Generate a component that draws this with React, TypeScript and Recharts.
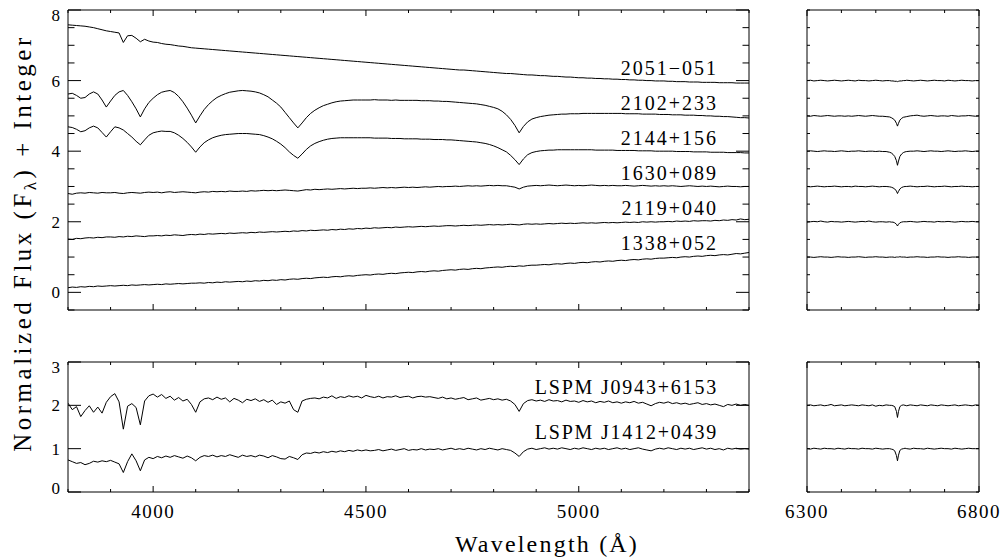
import { LineChart, Line, XAxis, YAxis } from 'recharts'

// wavelength grids (Å)
const waveBlue = [
  3800, 3810, 3820, 3830, 3840, 3850, 3860, 3870, 3880, 3890,
  3900, 3910, 3920, 3930, 3940, 3950, 3960, 3970, 3980, 3990,
  4000, 4010, 4020, 4030, 4040, 4050, 4060, 4070, 4080, 4090,
  4100, 4110, 4120, 4130, 4140, 4150, 4160, 4170, 4180, 4190,
  4200, 4210, 4220, 4230, 4240, 4250, 4260, 4270, 4280, 4290,
  4300, 4310, 4320, 4330, 4340, 4350, 4360, 4370, 4380, 4390,
  4400, 4410, 4420, 4430, 4440, 4450, 4460, 4470, 4480, 4490,
  4500, 4510, 4520, 4530, 4540, 4550, 4560, 4570, 4580, 4590,
  4600, 4610, 4620, 4630, 4640, 4650, 4660, 4670, 4680, 4690,
  4700, 4710, 4720, 4730, 4740, 4750, 4760, 4770, 4780, 4790,
  4800, 4810, 4820, 4830, 4840, 4850, 4860, 4870, 4880, 4890,
  4900, 4910, 4920, 4930, 4940, 4950, 4960, 4970, 4980, 4990,
  5000, 5010, 5020, 5030, 5040, 5050, 5060, 5070, 5080, 5090,
  5100, 5110, 5120, 5130, 5140, 5150, 5160, 5170, 5180, 5190,
  5200, 5210, 5220, 5230, 5240, 5250, 5260, 5270, 5280, 5290,
  5300, 5310, 5320, 5330, 5340, 5350, 5360, 5370, 5380, 5390,
  5400,
]
const waveRed = [
  6300, 6310, 6320, 6330, 6340, 6350, 6360, 6370, 6380, 6390,
  6400, 6410, 6420, 6430, 6440, 6450, 6460, 6470, 6480, 6490,
  6500, 6510, 6520, 6530, 6540,
  6545, 6550, 6555, 6560, 6563, 6566, 6570, 6575, 6580, 6585,
  6590, 6600, 6610, 6620, 6630, 6640, 6650, 6660, 6670, 6680,
  6690, 6700, 6710, 6720, 6730, 6740, 6750, 6760, 6770, 6780,
  6790, 6800,
]

// normalized flux, blue side
const b2051 = [
  2.58, 2.57, 2.56, 2.55, 2.54, 2.52, 2.50, 2.47, 2.44, 2.41,
  2.39, 2.37, 2.35, 2.08, 2.27, 2.28, 2.20, 2.10, 2.17, 2.12,
  2.09, 2.08, 2.05, 2.03, 2.02, 2.00, 1.98, 1.97, 1.95, 1.93,
  1.92, 1.91, 1.90, 1.89, 1.88, 1.87, 1.86, 1.85, 1.84, 1.83,
  1.82, 1.81, 1.80, 1.79, 1.78, 1.77, 1.76, 1.75, 1.74, 1.73,
  1.72, 1.71, 1.70, 1.69, 1.68, 1.67, 1.66, 1.65, 1.64, 1.63,
  1.62, 1.61, 1.60, 1.59, 1.58, 1.57, 1.56, 1.55, 1.54, 1.53,
  1.52, 1.51, 1.50, 1.49, 1.48, 1.47, 1.46, 1.45, 1.44, 1.43,
  1.42, 1.41, 1.40, 1.39, 1.38, 1.37, 1.36, 1.35, 1.34, 1.33,
  1.32, 1.31, 1.30, 1.30, 1.29, 1.28, 1.27, 1.26, 1.25, 1.24,
  1.23, 1.22, 1.21, 1.20, 1.20, 1.19, 1.18, 1.17, 1.16, 1.16,
  1.15, 1.14, 1.14, 1.13, 1.12, 1.12, 1.11, 1.10, 1.10, 1.09,
  1.08, 1.08, 1.07, 1.07, 1.06, 1.06, 1.05, 1.05, 1.04, 1.04,
  1.03, 1.03, 1.02, 1.02, 1.01, 1.01, 1.00, 1.00, 0.99, 0.99,
  0.99, 0.98, 0.98, 0.97, 0.97, 0.97, 0.96, 0.96, 0.96, 0.95,
  0.95, 0.95, 0.95, 0.94, 0.94, 0.94, 0.94, 0.93, 0.93, 0.93,
  0.93,
]
const b2102 = [
  1.62, 1.64, 1.58, 1.50, 1.52, 1.62, 1.68, 1.62, 1.45, 1.25,
  1.42, 1.58, 1.68, 1.72, 1.58, 1.40, 1.20, 0.97, 1.20, 1.38,
  1.50, 1.60, 1.67, 1.70, 1.72, 1.66, 1.55, 1.40, 1.22, 1.02,
  0.80, 1.00, 1.18, 1.32, 1.43, 1.52, 1.58, 1.63, 1.67, 1.69,
  1.71, 1.72, 1.71, 1.70, 1.68, 1.65, 1.60, 1.54, 1.45, 1.36,
  1.25, 1.10, 0.95, 0.80, 0.66, 0.80, 0.95, 1.07, 1.16, 1.23,
  1.29, 1.33, 1.37, 1.40, 1.42, 1.43, 1.44, 1.45, 1.45, 1.45,
  1.45, 1.45, 1.46, 1.45, 1.45, 1.45, 1.44, 1.45, 1.44, 1.44,
  1.44, 1.44, 1.44, 1.43, 1.43, 1.43, 1.42, 1.42, 1.41, 1.41,
  1.40, 1.39, 1.38, 1.37, 1.36, 1.35, 1.34, 1.32, 1.30, 1.27,
  1.24, 1.20, 1.13, 1.03, 0.90, 0.73, 0.52, 0.70, 0.83, 0.91,
  0.95, 0.98, 1.00, 1.02, 1.03, 1.04, 1.05, 1.05, 1.06, 1.06,
  1.06, 1.07, 1.07, 1.07, 1.07, 1.07, 1.07, 1.07, 1.07, 1.07,
  1.07, 1.06, 1.06, 1.06, 1.06, 1.05, 1.05, 1.05, 1.05, 1.04,
  1.04, 1.04, 1.03, 1.03, 1.03, 1.02, 1.02, 1.02, 1.01, 1.01,
  1.00, 1.00, 0.99, 0.99, 0.98, 0.98, 0.97, 0.96, 0.95, 0.95,
  0.94,
]
const b2144 = [
  1.69, 1.67, 1.62, 1.55, 1.58, 1.66, 1.71, 1.66, 1.53, 1.40,
  1.55, 1.69, 1.66, 1.60, 1.50, 1.40, 1.28, 1.18, 1.32, 1.45,
  1.52, 1.55, 1.57, 1.56, 1.56, 1.52, 1.45, 1.36, 1.25, 1.12,
  0.97, 1.12, 1.24, 1.32, 1.38, 1.42, 1.45, 1.47, 1.48, 1.49,
  1.50, 1.50, 1.50, 1.49, 1.48, 1.47, 1.44, 1.40, 1.35, 1.28,
  1.20, 1.10, 0.98, 0.88, 0.80, 0.92, 1.05, 1.15, 1.22, 1.27,
  1.31, 1.34, 1.36, 1.37, 1.38, 1.38, 1.38, 1.38, 1.38, 1.38,
  1.38, 1.38, 1.37, 1.37, 1.37, 1.37, 1.36, 1.36, 1.36, 1.35,
  1.35, 1.35, 1.35, 1.34, 1.34, 1.34, 1.33, 1.33, 1.33, 1.32,
  1.32, 1.31, 1.30, 1.29, 1.28, 1.27, 1.26, 1.24, 1.22, 1.19,
  1.15, 1.10, 1.04, 0.98, 0.88, 0.76, 0.62, 0.78, 0.90, 0.96,
  0.99, 1.01, 1.02, 1.03, 1.03, 1.04, 1.04, 1.04, 1.04, 1.04,
  1.04, 1.04, 1.04, 1.04, 1.03, 1.03, 1.03, 1.03, 1.03, 1.02,
  1.02, 1.02, 1.02, 1.02, 1.01, 1.01, 1.01, 1.01, 1.00, 1.00,
  1.00, 1.00, 1.00, 0.99, 0.99, 0.99, 0.99, 0.98, 0.98, 0.98,
  0.98, 0.97, 0.97, 0.97, 0.97, 0.96, 0.96, 0.96, 0.96, 0.95,
  0.95,
]
const b1630 = [
  0.80, 0.78, 0.81, 0.82, 0.81, 0.83, 0.82, 0.81, 0.83, 0.82,
  0.82, 0.83, 0.81, 0.80, 0.82, 0.83, 0.82, 0.81, 0.83, 0.84,
  0.83, 0.84, 0.82, 0.84, 0.85, 0.83, 0.84, 0.85, 0.84, 0.83,
  0.82, 0.84, 0.85, 0.84, 0.86, 0.85, 0.86, 0.85, 0.87, 0.86,
  0.86, 0.87, 0.86, 0.88, 0.87, 0.88, 0.89, 0.88, 0.89, 0.88,
  0.89, 0.90, 0.89, 0.88, 0.87, 0.89, 0.91, 0.90, 0.92, 0.91,
  0.92, 0.93, 0.92, 0.93, 0.94, 0.93, 0.94, 0.95, 0.94, 0.95,
  0.95, 0.96, 0.95, 0.96, 0.97, 0.96, 0.97, 0.96, 0.97, 0.98,
  0.97, 0.98, 0.97, 0.98, 0.99, 0.98, 0.99, 1.00, 0.99, 1.00,
  1.00, 1.01, 1.00, 1.01, 1.02, 1.01, 1.02, 1.01, 1.02, 1.03,
  1.02, 1.03, 1.02, 1.02, 1.00, 0.98, 0.93, 0.98, 1.01, 1.02,
  1.03, 1.02, 1.03, 1.04, 1.03, 1.02, 1.03, 1.04, 1.03, 1.02,
  1.03, 1.02, 1.03, 1.04, 1.03, 1.02, 1.03, 1.02, 1.03, 1.02,
  1.02, 1.03, 1.02, 1.01, 1.02, 1.03, 1.02, 1.01, 1.02, 1.01,
  1.02, 1.01, 1.02, 1.01, 1.00, 1.01, 1.02, 1.01, 1.00, 1.01,
  1.00, 1.01, 1.00, 0.99, 1.00, 1.01, 1.00, 1.00, 0.99, 1.00,
  1.00,
]
const b2119 = [
  0.51, 0.50, 0.53, 0.52, 0.54, 0.55, 0.54, 0.56, 0.55, 0.57,
  0.57, 0.56, 0.58, 0.57, 0.59, 0.58, 0.60, 0.59, 0.58, 0.60,
  0.60, 0.61, 0.60, 0.62, 0.61, 0.63, 0.62, 0.61, 0.63, 0.64,
  0.63, 0.65, 0.64, 0.66, 0.65, 0.66, 0.67, 0.66, 0.68, 0.67,
  0.68, 0.69, 0.68, 0.70, 0.69, 0.71, 0.70, 0.71, 0.72, 0.71,
  0.72, 0.73, 0.72, 0.74, 0.73, 0.75, 0.74, 0.76, 0.75, 0.76,
  0.77, 0.76, 0.78, 0.77, 0.79, 0.78, 0.80, 0.79, 0.81, 0.80,
  0.82, 0.81, 0.83, 0.82, 0.83, 0.84, 0.83, 0.85, 0.84, 0.85,
  0.86, 0.85, 0.86, 0.87, 0.86, 0.87, 0.88, 0.87, 0.88, 0.89,
  0.89, 0.88, 0.89, 0.90, 0.89, 0.90, 0.91, 0.90, 0.91, 0.92,
  0.91, 0.92, 0.91, 0.92, 0.93, 0.92, 0.91, 0.93, 0.94, 0.93,
  0.94, 0.93, 0.94, 0.95, 0.94, 0.95, 0.96, 0.95, 0.96, 0.95,
  0.96, 0.97, 0.96, 0.97, 0.96, 0.97, 0.98, 0.97, 0.98, 0.97,
  0.98, 0.99, 0.98, 0.99, 0.98, 1.00, 0.99, 1.00, 0.99, 1.00,
  1.00, 1.01, 1.00, 1.02, 1.01, 1.02, 1.01, 1.03, 1.02, 1.03,
  1.03, 1.02, 1.04, 1.03, 1.05, 1.04, 1.06, 1.05, 1.08, 1.06,
  1.07,
]
const b1338 = [
  0.13, 0.15, 0.14, 0.16, 0.15, 0.17, 0.16, 0.18, 0.17, 0.18,
  0.19, 0.18, 0.19, 0.20, 0.19, 0.21, 0.20, 0.21, 0.22, 0.21,
  0.22, 0.23, 0.22, 0.24, 0.23, 0.24, 0.25, 0.24, 0.25, 0.26,
  0.26, 0.27, 0.26, 0.28, 0.27, 0.29, 0.28, 0.30, 0.29, 0.30,
  0.31, 0.30, 0.32, 0.31, 0.33, 0.32, 0.34, 0.33, 0.35, 0.34,
  0.36, 0.35, 0.37, 0.38, 0.37, 0.39, 0.40, 0.39, 0.41, 0.42,
  0.43, 0.42, 0.44, 0.45, 0.44, 0.46, 0.47, 0.46, 0.48, 0.49,
  0.50, 0.49, 0.51, 0.52, 0.51, 0.53, 0.54, 0.53, 0.55, 0.56,
  0.57, 0.56, 0.58, 0.59, 0.58, 0.60, 0.61, 0.60, 0.62, 0.63,
  0.64, 0.63, 0.65, 0.66, 0.65, 0.67, 0.68, 0.67, 0.69, 0.70,
  0.71, 0.72, 0.71, 0.73, 0.74, 0.73, 0.75, 0.74, 0.76, 0.77,
  0.77, 0.78, 0.79, 0.78, 0.80, 0.81, 0.80, 0.82, 0.83, 0.82,
  0.84, 0.85, 0.84, 0.86, 0.87, 0.86, 0.88, 0.89, 0.88, 0.90,
  0.91, 0.90, 0.92, 0.93, 0.92, 0.94, 0.95, 0.94, 0.96, 0.97,
  0.97, 0.98, 0.99, 0.98, 1.00, 1.01, 1.00, 1.02, 1.03, 1.02,
  1.04, 1.05, 1.04, 1.06, 1.07, 1.06, 1.08, 1.10, 1.09, 1.11,
  1.13,
]
const bJ0943 = [
  1.05, 0.90, 0.97, 0.74, 0.88, 0.99, 0.84, 0.96, 0.82, 1.07,
  1.20, 1.27, 1.08, 0.45, 0.98, 1.04, 0.95, 0.55, 1.10, 1.22,
  1.26, 1.19, 1.25, 1.16, 1.21, 1.12, 1.18, 1.10, 1.14, 1.02,
  0.84, 1.08, 1.15, 1.17, 1.13, 1.19, 1.14, 1.17, 1.08, 1.16,
  1.12, 1.06, 1.14, 1.11, 1.15, 1.09, 1.13, 1.07, 1.12, 1.02,
  1.08, 1.05, 1.10, 0.90, 0.84, 1.10, 1.14, 1.16, 1.17, 1.15,
  1.19, 1.17, 1.22, 1.16, 1.20, 1.18, 1.22, 1.19, 1.21, 1.17,
  1.23, 1.20, 1.18, 1.21, 1.17, 1.20, 1.19, 1.22, 1.18, 1.20,
  1.21, 1.17, 1.20, 1.21, 1.19, 1.20, 1.18, 1.16, 1.19, 1.15,
  1.17, 1.14, 1.16, 1.18, 1.13, 1.15, 1.17, 1.12, 1.14, 1.16,
  1.13, 1.15, 1.12, 1.14, 1.10, 1.02, 0.86, 1.04, 1.11, 1.13,
  1.10, 1.12, 1.09, 1.13, 1.10, 1.11, 1.08, 1.12, 1.09, 1.10,
  1.07, 1.11, 1.08, 1.10, 1.06, 1.09, 1.07, 1.10, 1.06, 1.08,
  1.05, 1.08, 1.06, 1.09, 1.05, 1.07, 1.03, 0.99, 1.04, 1.07,
  1.05, 1.08, 1.04, 1.06, 1.03, 1.05, 1.02, 1.04, 1.06, 1.02,
  1.04, 1.01, 1.03, 1.00, 0.97, 1.02, 1.00, 1.03, 1.00, 1.02,
  1.00,
]
const bJ1412 = [
  0.74, 0.70, 0.66, 0.68, 0.63, 0.66, 0.71, 0.69, 0.72, 0.70,
  0.73, 0.69, 0.65, 0.45, 0.70, 0.88, 0.72, 0.49, 0.74, 0.80,
  0.77, 0.82, 0.79, 0.83, 0.80, 0.84, 0.81, 0.78, 0.83, 0.79,
  0.72, 0.80, 0.84, 0.82, 0.85, 0.81, 0.84, 0.82, 0.86, 0.83,
  0.80, 0.85, 0.82, 0.84, 0.81, 0.85, 0.83, 0.79, 0.84, 0.81,
  0.77, 0.76, 0.82, 0.79, 0.75, 0.86, 0.90, 0.89, 0.92, 0.90,
  0.93, 0.91, 0.94, 0.92, 0.95, 0.93, 0.96, 0.94, 0.97, 0.95,
  0.97, 0.95, 0.96, 0.98, 0.95, 0.97, 0.99, 0.96, 0.98, 1.00,
  0.96, 0.98, 0.97, 1.00, 0.97, 0.99, 0.98, 1.00, 0.97, 0.99,
  1.01, 0.98, 1.00, 0.98, 1.01, 0.99, 0.97, 1.00, 0.98, 1.01,
  0.99, 0.97, 1.00, 0.98, 0.96, 0.90, 0.82, 0.93, 0.99, 1.01,
  0.98, 1.00, 1.02, 0.99, 1.01, 0.99, 1.02, 1.00, 0.98, 1.01,
  0.99, 1.02, 1.00, 0.98, 1.01, 0.99, 1.01, 0.98, 1.00, 1.02,
  0.99, 1.01, 0.98, 1.00, 1.02, 0.99, 0.97, 0.95, 0.99, 1.01,
  0.99, 1.02, 1.00, 0.98, 1.01, 0.99, 1.01, 0.98, 1.00, 1.02,
  0.99, 1.01, 0.98, 1.00, 0.97, 1.01, 0.99, 1.01, 0.99, 1.00,
  0.99,
]

// normalized flux, H-alpha side
const r2051 = [
  1.00, 1.01, 0.99, 1.00, 1.01, 1.00, 0.99, 1.00, 1.01, 1.00,
  0.99, 1.00, 1.01, 1.00, 0.99, 1.01, 1.00, 1.00, 0.99, 1.00,
  1.01, 1.00, 0.99, 1.00, 1.00,
  0.99, 0.99, 0.98, 0.98, 0.97, 0.98, 0.99, 0.99, 1.00, 1.00,
  1.01, 1.00, 0.99, 1.00, 1.01, 1.00, 0.99, 1.00, 1.01, 1.00,
  1.00, 0.99, 1.01, 1.00, 0.99, 1.00, 1.01, 1.00, 1.00, 0.99,
  1.00, 1.00,
]
const r2102 = [
  1.00, 0.99, 1.01, 1.00, 0.99, 1.00, 1.01, 1.00, 0.99, 1.00,
  1.00, 0.99, 1.00, 0.99, 1.00, 1.01, 1.00, 0.99, 1.00, 1.01,
  1.00, 0.99, 0.99, 0.98, 0.97,
  0.95, 0.92, 0.88, 0.79, 0.71, 0.79, 0.88, 0.93, 0.96, 0.97,
  0.98, 1.00, 1.01, 1.02, 1.00, 0.99, 1.00, 1.01, 1.00, 0.99,
  1.00, 1.00, 0.99, 1.01, 1.00, 0.99, 1.00, 1.00, 1.01, 1.00,
  0.99, 1.00,
]
const r2144 = [
  1.00, 1.01, 1.00, 0.99, 1.00, 1.01, 1.00, 1.00, 0.99, 1.00,
  1.01, 1.00, 0.99, 1.00, 1.00, 1.01, 1.00, 0.99, 1.00, 1.00,
  0.99, 1.00, 0.99, 0.99, 0.97,
  0.95, 0.91, 0.85, 0.73, 0.60, 0.72, 0.85, 0.92, 0.96, 0.98,
  0.99, 1.00, 1.00, 1.01, 1.00, 0.99, 1.00, 1.01, 1.00, 1.00,
  0.99, 1.00, 1.01, 1.00, 0.99, 1.00, 1.00, 1.01, 1.00, 0.99,
  1.00, 1.00,
]
const r1630 = [
  1.00, 0.99, 1.00, 1.01, 1.00, 0.99, 1.00, 1.00, 1.01, 1.00,
  0.99, 1.00, 1.00, 0.99, 1.01, 1.00, 1.00, 0.99, 1.00, 1.01,
  1.00, 0.99, 1.00, 1.00, 0.99,
  0.98, 0.96, 0.93, 0.87, 0.80, 0.86, 0.93, 0.97, 0.99, 1.00,
  1.00, 1.01, 1.00, 0.99, 1.00, 1.00, 1.01, 1.00, 0.99, 1.00,
  1.00, 1.01, 1.00, 0.99, 1.00, 1.00, 1.01, 1.00, 1.00, 0.99,
  1.00, 1.00,
]
const r2119 = [
  0.99, 1.00, 1.01, 1.00, 1.02, 1.00, 0.99, 1.01, 1.00, 1.00,
  0.99, 1.00, 1.01, 1.00, 0.99, 1.00, 1.01, 1.00, 1.02, 1.00,
  0.99, 1.00, 1.00, 0.99, 1.00,
  0.99, 0.99, 0.97, 0.93, 0.88, 0.93, 0.97, 0.99, 1.00, 1.00,
  1.00, 1.01, 1.00, 0.99, 1.00, 1.01, 1.00, 1.00, 0.99, 1.01,
  1.00, 1.00, 1.01, 1.00, 0.99, 1.00, 1.01, 1.00, 1.00, 1.01,
  1.00, 1.00,
]
const r1338 = [
  1.00, 1.00, 0.99, 1.00, 1.01, 1.00, 1.00, 0.99, 1.00, 1.01,
  1.00, 1.00, 0.99, 1.00, 1.00, 1.01, 1.00, 0.99, 1.00, 1.00,
  1.01, 1.00, 1.00, 0.99, 1.00,
  1.00, 1.00, 0.99, 1.00, 1.00, 1.00, 1.01, 1.00, 1.00, 1.00,
  0.99, 1.00, 1.00, 1.01, 1.00, 1.00, 0.99, 1.00, 1.00, 1.01,
  1.00, 1.00, 0.99, 1.00, 1.00, 1.01, 1.00, 1.00, 0.99, 1.00,
  1.00, 1.00,
]
const rJ0943 = [
  1.00, 1.01, 0.99, 1.00, 1.01, 0.99, 1.00, 1.02, 0.99, 1.00,
  1.01, 0.99, 1.00, 1.01, 1.00, 0.99, 1.01, 1.00, 0.99, 1.01,
  0.98, 1.00, 0.99, 1.01, 1.00,
  1.00, 0.99, 0.97, 0.86, 0.72, 0.86, 0.97, 1.00, 1.01, 1.00,
  0.99, 1.01, 1.00, 0.99, 1.01, 1.00, 0.99, 1.01, 1.00, 0.99,
  1.01, 1.00, 0.99, 1.00, 1.01, 0.99, 1.00, 1.01, 1.00, 0.99,
  1.01, 1.00,
]
const rJ1412 = [
  1.00, 0.99, 1.01, 1.00, 0.99, 1.01, 1.00, 1.00, 0.99, 1.01,
  1.00, 0.99, 1.01, 1.00, 1.00, 0.99, 1.01, 1.00, 1.00, 0.99,
  1.01, 1.00, 0.99, 1.00, 1.00,
  0.99, 0.98, 0.95, 0.84, 0.72, 0.85, 0.96, 0.99, 1.00, 1.01,
  1.00, 0.99, 1.01, 1.00, 1.00, 0.99, 1.01, 1.00, 0.99, 1.00,
  1.01, 1.00, 1.00, 0.99, 1.01, 1.00, 0.99, 1.00, 1.01, 1.00,
  1.00, 1.00,
]

const topNames = ['2051\u2212051', '2102+233', '2144+156', '1630+089', '2119+040', '1338+052']
const topOffsets = [5, 4, 3, 2, 1, 0]
const topBlue = [b2051, b2102, b2144, b1630, b2119, b1338]
const topRed = [r2051, r2102, r2144, r1630, r2119, r1338]

const bottomNames = ['LSPM J0943+6153', 'LSPM J1412+0439']
const bottomOffsets = [1, 0]
const bottomBlue = [bJ0943, bJ1412]
const bottomRed = [rJ0943, rJ1412]

const blueTicks = [3800, 3900, 4000, 4100, 4200, 4300, 4400, 4500, 4600, 4700, 4800, 4900, 5000, 5100, 5200, 5300, 5400]
const redTicks = [6300, 6400, 6500, 6600, 6700, 6800]
const topYTicks = [-0.5, 0, 0.5, 1, 1.5, 2, 2.5, 3, 3.5, 4, 4.5, 5, 5.5, 6, 6.5, 7, 7.5, 8]
const bottomYTicks = [0, 1, 2, 3]

function buildRows(waves: number[], series: number[][], offsets: number[]) {
  return waves.map((w, i) => {
    const row: Record<string, number> = { w }
    series.forEach((s, k) => { row['s' + k] = s[i] + offsets[k] })
    return row
  })
}

const FONT = '"Liberation Serif", "Times New Roman", serif'

type PanelProps = {
  left: number; top: number; width: number; height: number
  margin: { top: number; right: number; bottom: number; left: number }
  rows: Record<string, number>[]; count: number
  xDomain: [number, number]; yDomain: [number, number]
  xTicks: number[]; yTicks: number[]
  xMajor: (v: number) => boolean; yMajor: (v: number) => boolean
  xLabel: (v: number) => boolean; yLabel: (v: number) => boolean
  xLen: [number, number]; yLen: [number, number]
}

function Panel(p: PanelProps) {
  const tickLen = (major: boolean, len: [number, number]) => (major ? len[0] : len[1])

  const bottomTick = (t: any) => {
    const v = t.payload.value
    const l = tickLen(p.xMajor(v), p.xLen)
    return (
      <g>
        <line x1={t.x} y1={t.y} x2={t.x} y2={t.y - l} stroke="#000" />
        {p.xLabel(v) && (
          <text x={t.x} y={t.y + 26} textAnchor="middle" fontFamily={FONT} fontSize={19} letterSpacing={1.5} fill="#000">
            {v}
          </text>
        )}
      </g>
    )
  }
  const topTick = (t: any) => {
    const l = tickLen(p.xMajor(t.payload.value), p.xLen)
    return <line x1={t.x} y1={t.y} x2={t.x} y2={t.y + l} stroke="#000" />
  }
  const leftTick = (t: any) => {
    const v = t.payload.value
    const l = tickLen(p.yMajor(v), p.yLen)
    let dy = 6
    if (v === p.yDomain[1]) dy += 5
    if (v === p.yDomain[0]) dy -= 4
    return (
      <g>
        <line x1={t.x} y1={t.y} x2={t.x + l} y2={t.y} stroke="#000" />
        {p.yLabel(v) && (
          <text x={t.x - 8} y={t.y + dy} textAnchor="end" fontFamily={FONT} fontSize={17} fill="#000">
            {v}
          </text>
        )}
      </g>
    )
  }
  const rightTick = (t: any) => {
    const l = tickLen(p.yMajor(t.payload.value), p.yLen)
    return <line x1={t.x} y1={t.y} x2={t.x - l} y2={t.y} stroke="#000" />
  }

  const frame = { stroke: '#000', strokeWidth: 1 }

  // axes take 1px each; margins are the plot box minus that
  const m = { top: p.margin.top - 1, right: p.margin.right - 1, bottom: p.margin.bottom - 1, left: p.margin.left - 1 }

  return (
    <div style={{ position: 'absolute', left: p.left, top: p.top }}>
      <LineChart width={p.width} height={p.height} data={p.rows} margin={m}>
        <XAxis xAxisId="b" dataKey="w" type="number" domain={p.xDomain} allowDataOverflow ticks={p.xTicks}
          interval={0} height={1} tickSize={0} tickMargin={0} tickLine={false} axisLine={frame} tick={bottomTick} />
        <XAxis xAxisId="t" orientation="top" dataKey="w" type="number" domain={p.xDomain} allowDataOverflow ticks={p.xTicks}
          interval={0} height={1} tickSize={0} tickMargin={0} tickLine={false} axisLine={frame} tick={topTick} />
        <YAxis yAxisId="l" type="number" domain={p.yDomain} allowDataOverflow ticks={p.yTicks}
          interval={0} width={1} tickSize={0} tickMargin={0} tickLine={false} axisLine={frame} tick={leftTick} />
        <YAxis yAxisId="r" orientation="right" type="number" domain={p.yDomain} allowDataOverflow ticks={p.yTicks}
          interval={0} width={1} tickSize={0} tickMargin={0} tickLine={false} axisLine={frame} tick={rightTick} />
        {Array.from({ length: p.count }).map((_, k) => (
          <Line key={k} xAxisId="b" yAxisId="l" dataKey={'s' + k} type="linear" stroke="#000" strokeWidth={1}
            dot={false} activeDot={false} isAnimationActive={false} />
        ))}
      </LineChart>
    </div>
  )
}

export default function App() {
  const topBlueRows = buildRows(waveBlue, topBlue, topOffsets)
  const topRedRows = buildRows(waveRed, topRed, topOffsets)
  const bottomBlueRows = buildRows(waveBlue, bottomBlue, bottomOffsets)
  const bottomRedRows = buildRows(waveRed, bottomRed, bottomOffsets)

  const none = () => false
  const blueMajor = (v: number) => v % 500 === 0
  const redEdge = (v: number) => v === 6300 || v === 6800
  const evenInt = (v: number) => Number.isInteger(v) && v % 2 === 0
  const all = () => true

  const leftMargin = { top: 10, right: 11, bottom: 10, left: 68 }
  const rightMargin = { top: 10, right: 25, bottom: 10, left: 27 }
  const leftMarginB = { top: 22, right: 11, bottom: 67, left: 68 }
  const rightMarginB = { top: 22, right: 25, bottom: 67, left: 27 }

  const topLabelY = [75, 110, 145, 180, 215, 250]
  const bottomLabelY = [394, 439]

  return (
    <div style={{ position: 'absolute', left: 0, top: 0, width: 1004, height: 559, background: '#fff' }}>
      <Panel left={0} top={0} width={760} height={320} margin={leftMargin} rows={topBlueRows} count={6}
        xDomain={[3800, 5400]} yDomain={[-0.5, 8]} xTicks={blueTicks} yTicks={topYTicks}
        xMajor={blueMajor} yMajor={evenInt} xLabel={none} yLabel={evenInt} xLen={[6, 3]} yLen={[13, 6.5]} />
      <Panel left={780} top={0} width={224} height={320} margin={rightMargin} rows={topRedRows} count={6}
        xDomain={[6300, 6800]} yDomain={[-0.5, 8]} xTicks={redTicks} yTicks={topYTicks}
        xMajor={redEdge} yMajor={none} xLabel={none} yLabel={none} xLen={[6, 3]} yLen={[3.5, 3]} />
      <Panel left={0} top={340} width={760} height={219} margin={leftMarginB} rows={bottomBlueRows} count={2}
        xDomain={[3800, 5400]} yDomain={[0, 3]} xTicks={blueTicks} yTicks={bottomYTicks}
        xMajor={blueMajor} yMajor={all} xLabel={blueMajor} yLabel={all} xLen={[6, 3]} yLen={[13, 6.5]} />
      <Panel left={780} top={340} width={224} height={219} margin={rightMarginB} rows={bottomRedRows} count={2}
        xDomain={[6300, 6800]} yDomain={[0, 3]} xTicks={redTicks} yTicks={bottomYTicks}
        xMajor={redEdge} yMajor={all} xLabel={redEdge} yLabel={none} xLen={[6, 3]} yLen={[3, 3]} />

      <svg width={1004} height={559} style={{ position: 'absolute', left: 0, top: 0, pointerEvents: 'none' }}>
        {topNames.map((n, i) => (
          <text key={n} x={718} y={topLabelY[i]} textAnchor="end" fontFamily={FONT} fontSize={20} letterSpacing={2} fill="#000">
            {n}
          </text>
        ))}
        {bottomNames.map((n, i) => (
          <text key={n} x={718} y={bottomLabelY[i]} textAnchor="end" fontFamily={FONT} fontSize={20} letterSpacing={1.8} fill="#000">
            {n}
          </text>
        ))}
        <text x={547} y={552} textAnchor="middle" fontFamily={FONT} fontSize={24} letterSpacing={2.2} fill="#000">
          Wavelength (Å)
        </text>
        <text transform="translate(31,243) rotate(-90)" textAnchor="middle" fontFamily={FONT} fontSize={25} letterSpacing={3.5} fill="#000">
          Normalized Flux (F<tspan dy={5} fontSize={17}>λ</tspan><tspan dy={-5}>) + Integer</tspan>
        </text>
      </svg>
    </div>
  )
}
